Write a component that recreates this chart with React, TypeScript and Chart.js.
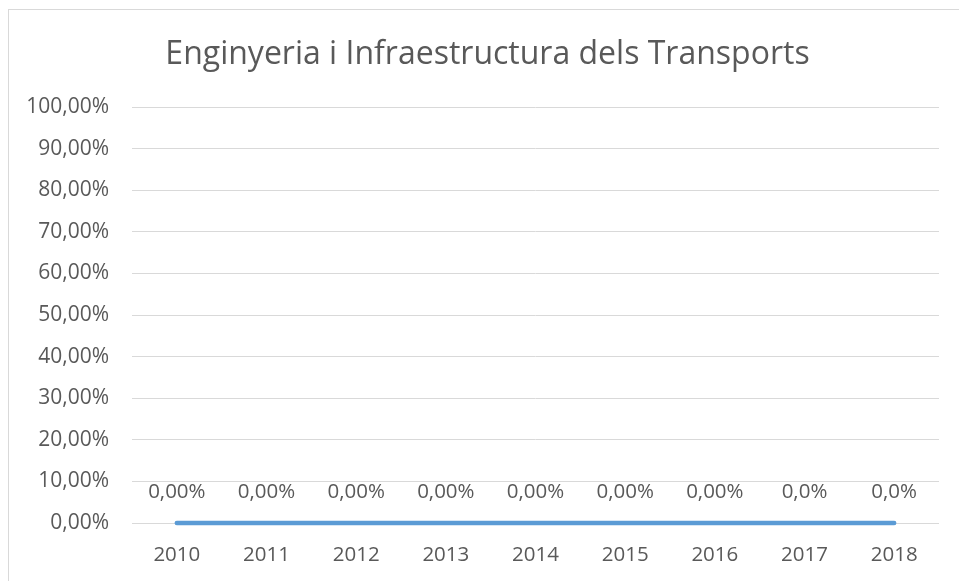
import React, { useEffect, useRef } from "react";
import { Chart, registerables } from "chart.js";

Chart.register(...registerables);

const titleText = "Enginyeria i Infraestructura dels Transports";
const categories = ["2010", "2011", "2012", "2013", "2014", "2015", "2016", "2017", "2018"];
const values = [0, 0, 0, 0, 0, 0, 0, 0, 0];
const dataLabels = ["0,00%", "0,00%", "0,00%", "0,00%", "0,00%", "0,00%", "0,00%", "0,0%", "0,0%"];
const yTicks = [0, 0.1, 0.2, 0.3, 0.4, 0.5, 0.6, 0.7, 0.8, 0.9, 1.0];

const FONT = "'Open Sans', 'Noto Sans', sans-serif";
const TEXT = "#595959";

const fmtPct = (v: number) => (v * 100).toFixed(2).replace(".", ",") + "%";

const labelPlugin = {
  id: "pointLabels",
  afterDatasetsDraw(chart: any) {
    const ctx = chart.ctx;
    const meta = chart.getDatasetMeta(0);
    ctx.save();
    ctx.font = `20.5px ${FONT}`;
    ctx.fillStyle = TEXT;
    ctx.textAlign = "center";
    ctx.textBaseline = "middle";
    meta.data.forEach((pt: any, i: number) => {
      ctx.fillText(dataLabels[i], pt.x, pt.y - 31);
    });
    ctx.restore();
  },
};

// shift the title box so it is centred like the reference (frame-relative)
const titleShift = {
  id: "titleShift",
  afterLayout(chart: any) {
    const t = chart.titleBlock;
    if (t) t.left = t.left + 36;
  },
};

export default function App() {
  const ref = useRef<HTMLCanvasElement>(null);
  useEffect(() => {
    if (!ref.current) return;
    const chart = new Chart(ref.current, {
      type: "line",
      data: {
        labels: categories,
        datasets: [
          {
            data: values,
            borderColor: "#5B9BD5",
            backgroundColor: "#5B9BD5",
            borderWidth: 4.5,
            borderCapStyle: "round",
            pointRadius: 0,
            pointHoverRadius: 0,
            tension: 0,
            clip: false as any,
          },
        ],
      },
      options: {
        animation: false,
        responsive: false,
        maintainAspectRatio: false,
        layout: { padding: { top: 2, right: 20, bottom: 0, left: 0 } },
        plugins: {
          legend: { display: false },
          tooltip: { enabled: false },
          title: {
            display: true,
            text: titleText,
            color: TEXT,
            font: { family: FONT, size: 32, weight: "normal" as any, lineHeight: 1.2 },
            padding: { top: 34, bottom: 32.6 },
          },
        },
        scales: {
          x: {
            offset: true,
            grid: { display: false },
            border: { display: false },
            ticks: { color: TEXT, font: { family: FONT, size: 20.5 }, padding: 12, maxRotation: 0 },
            afterFit: (s: any) => {
              s.height = 58;
            },
          },
          y: {
            min: 0,
            max: 1,
            afterBuildTicks: (s: any) => {
              s.ticks = yTicks.map((v) => ({ value: v }));
            },
            grid: { color: "#d9d9d9", lineWidth: 1, drawTicks: false },
            border: { display: false },
            ticks: {
              color: TEXT,
              font: { family: FONT, size: 21 },
              padding: 23,
              callback: (v: any) => fmtPct(Number(v)),
            },
            afterFit: (s: any) => {
              s.width = 132;
            },
          },
        },
      },
      plugins: [labelPlugin, titleShift],
    });
    return () => chart.destroy();
  }, []);

  return (
    <div style={{ position: "absolute", left: 0, top: 0, width: 959, height: 581, background: "#fff", overflow: "hidden" }}>
      <div
        style={{
          position: "absolute",
          left: 8,
          top: 9,
          width: 1000,
          height: 700,
          border: "1px solid #d9d9d9",
          boxSizing: "border-box",
        }}
      />
      <canvas ref={ref} width={959} height={581} style={{ position: "absolute", left: 0, top: 0 }} />
    </div>
  );
}
